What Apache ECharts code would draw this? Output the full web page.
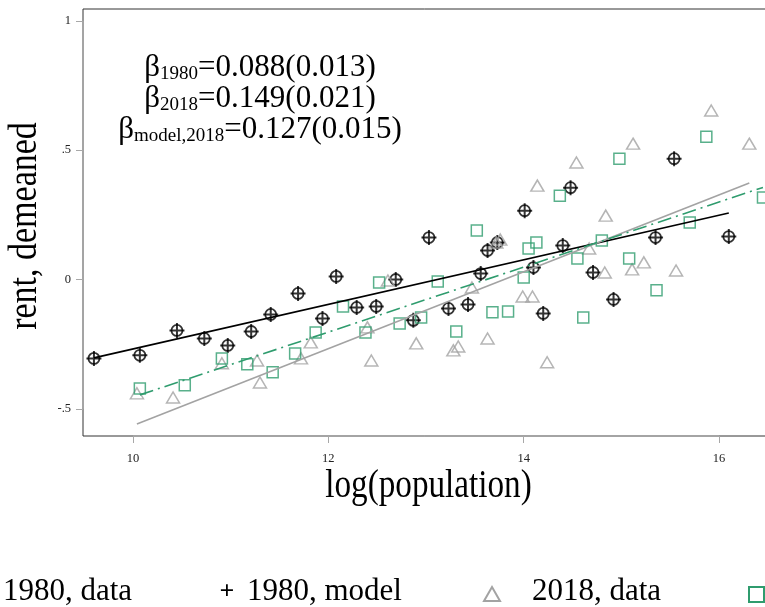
<!DOCTYPE html>
<html>
<head>
<meta charset="utf-8">
<script src="https://cdn.jsdelivr.net/npm/echarts@6/dist/echarts.min.js"></script>
<style>
html,body{margin:0;padding:0;background:#fff;}
#chart{width:765px;height:607px;}
</style>
</head>
<body>
<div id="chart"></div>
<script>
// ---- data ----
const pop1980 = [9.60,10.07,10.45,10.73,10.97,11.21,11.41,11.69,11.94,12.08,12.29,12.49,12.69,12.87,13.03,13.23,13.43,13.56,13.63,13.73,14.01,14.10,14.20,14.40,14.48,14.71,14.92,15.35,15.54,16.10];
const rent1980 = [-0.305,-0.293,-0.197,-0.228,-0.255,-0.201,-0.135,-0.054,-0.151,0.012,-0.108,-0.104,0.000,-0.158,0.162,-0.112,-0.097,0.023,0.112,0.143,0.266,0.046,-0.131,0.131,0.355,0.027,-0.077,0.162,0.467,0.166];
const rentModel1980 = [-0.305,-0.293,-0.197,-0.228,-0.255,-0.201,-0.135,-0.054,-0.151,0.012,-0.108,-0.104,0.000,-0.158,0.162,-0.112,-0.097,0.023,0.112,0.143,0.266,0.046,-0.131,0.131,0.355,0.027,-0.077,0.162,0.467,0.166];

const pop2018 = [10.04,10.41,10.91,11.27,11.30,11.72,11.82,12.40,12.44,12.61,12.90,13.28,13.33,13.47,13.63,13.72,13.76,13.99,14.09,14.14,14.24,14.54,14.67,14.83,14.84,15.11,15.12,15.23,15.56,15.92,16.31];
const rent2018 = [-0.440,-0.456,-0.324,-0.313,-0.398,-0.305,-0.243,-0.185,-0.313,-0.004,-0.247,-0.274,-0.259,-0.031,-0.228,0.143,0.154,-0.066,-0.066,0.363,-0.320,0.452,0.120,0.027,0.247,0.039,0.525,0.066,0.035,0.653,0.525];

const popModel2018 = [10.07,10.53,10.91,11.17,11.43,11.66,11.87,12.15,12.38,12.52,12.73,12.95,13.12,13.31,13.52,13.68,13.84,14.00,14.05,14.13,14.37,14.55,14.61,14.80,14.98,15.08,15.36,15.70,15.87,16.45];
const rentModel2018 = [-0.421,-0.409,-0.305,-0.328,-0.359,-0.286,-0.205,-0.104,-0.205,-0.012,-0.170,-0.147,-0.008,-0.201,0.189,-0.127,-0.124,0.008,0.120,0.143,0.324,0.081,-0.147,0.151,0.467,0.081,-0.042,0.220,0.552,0.317];

// fitted lines (endpoints)
const fit1980X = [9.60, 16.10];
const fit1980Y = [-0.303, 0.257];
const fit2018X = [10.04, 16.31];
const fit2018Y = [-0.559, 0.373];
const fitModel2018X = [10.07, 16.45];
const fitModel2018Y = [-0.446, 0.356];

const xTicks = [10, 12, 14, 16];
const yTicks = [-0.5, 0, 0.5, 1];

const legendNames = ['1980, data', '1980, model', '2018, data', '2018, model'];
const annotLines = [
  {sub: '1980', val: '=0.088(0.013)'},
  {sub: '2018', val: '=0.149(0.021)'},
  {sub: 'model,2018', val: '=0.127(0.015)'}
];

// ---- styling ----
const FONT = 'Liberation Serif';
const BLACK = '#000';
const GRAY = '#a3a3a3';
const GREEN = '#2f9c6e';
const AXGRAY = '#a8a8a8';
const PLUS = 'path://M6.5,0h2v6.5h6.5v2h-6.5v6.5h-2v-6.5h-6.5v-2h6.5z';

const zip = (xs, ys) => xs.map((x, i) => [x, ys[i]]);
const fmtY = v => v === 0 ? '0' : (v < 0 ? '-' : '') + String(Math.abs(v)).replace(/^0/, '');

const chart = echarts.init(document.getElementById('chart'), null, {renderer: 'canvas'});

const XMIN = 9.488, XMAX = 17.0;
const YMIN = -0.605, YMAX = 1.0456;

const option = {
  animation: false,
  backgroundColor: '#fff',
  grid: {left: 83, top: 9, width: 733.7, height: 427, outerBoundsMode: 'none', containLabel: false,
         show: true, borderColor: '#333', borderWidth: 1, backgroundColor: 'transparent'},
  xAxis: {
    type: 'value', min: XMIN, max: XMAX,
    splitLine: {show: false},
    axisLine: {show: false, onZero: false},
    axisTick: {show: true, length: 7, customValues: xTicks, lineStyle: {color: AXGRAY, width: 1}},
    axisLabel: {customValues: xTicks, margin: 16, fontFamily: FONT, fontSize: 12.5, color: '#222'}
  },
  yAxis: {
    type: 'value', min: YMIN, max: YMAX,
    splitLine: {show: false},
    axisLine: {show: false, onZero: false},
    axisTick: {show: true, length: 7, customValues: yTicks, lineStyle: {color: AXGRAY, width: 1}},
    axisLabel: {customValues: yTicks, margin: 12, fontFamily: FONT, fontSize: 12.5, color: '#222', formatter: fmtY}
  },
  series: [
    {name: legendNames[0], type: 'scatter', data: zip(pop1980, rent1980), symbol: 'circle', symbolSize: 11,
     itemStyle: {color: 'transparent', borderColor: BLACK, borderWidth: 1.8}, z: 2},
    {name: legendNames[1], type: 'scatter', data: zip(pop1980, rentModel1980), symbol: PLUS, symbolSize: 15,
     itemStyle: {color: BLACK}, z: 3},
    {name: legendNames[2], type: 'scatter', data: zip(pop2018, rent2018), symbol: 'triangle', symbolSize: [13, 11],
     itemStyle: {color: 'transparent', borderColor: GRAY, borderWidth: 1.5}, z: 4},
    {name: legendNames[3], type: 'scatter', data: zip(popModel2018, rentModel2018), symbol: 'rect', symbolSize: 11,
     itemStyle: {color: 'transparent', borderColor: GREEN, borderWidth: 1.5}, z: 5},
    {name: 'fit 1980', type: 'line', data: zip(fit1980X, fit1980Y), showSymbol: false, symbol: 'none',
     lineStyle: {color: BLACK, width: 1.6}, z: 6},
    {name: 'fit 2018', type: 'line', data: zip(fit2018X, fit2018Y), showSymbol: false, symbol: 'none',
     lineStyle: {color: GRAY, width: 1.6}, z: 6},
    {name: 'fit model 2018', type: 'line', data: zip(fitModel2018X, fitModel2018Y), showSymbol: false, symbol: 'none',
     lineStyle: {color: GREEN, width: 1.6, type: [14, 5, 2, 5]}, z: 6}
  ]
};
chart.setOption(option);

// axis lines spanning the labelled range, plus text elements
const p = (x, y) => chart.convertToPixel({gridIndex: 0}, [x, y]);
const gBottom = 9 + 427, gLeft = 83;
const xa = p(xTicks[0], 0)[0], xb = p(xTicks[xTicks.length - 1], 0)[0];
const ya = p(XMIN, yTicks[0])[1], yb = p(XMIN, yTicks[yTicks.length - 1])[1];

const graphics = [
  {type: 'line', shape: {x1: xa, y1: gBottom, x2: xb, y2: gBottom}, style: {stroke: AXGRAY, lineWidth: 1.6}, z: 10},
  {type: 'line', shape: {x1: gLeft, y1: ya, x2: gLeft, y2: yb}, style: {stroke: AXGRAY, lineWidth: 1.6}, z: 10},
  // axis titles
  {type: 'text', x: 25, y: 226, rotation: Math.PI / 2, scaleX: 0.85,
   style: {text: 'rent, demeaned', font: '40px "' + FONT + '"', fill: '#000', align: 'center', verticalAlign: 'middle'}, z: 10},
  {type: 'text', x: 428.5, y: 486, scaleX: 0.83,
   style: {text: 'log(population)', font: '40px "' + FONT + '"', fill: '#000', align: 'center', verticalAlign: 'middle'}, z: 10}
];
// annotation
const annotY = [68, 99, 130];
annotLines.forEach((ln, i) => {
  graphics.push({type: 'text', x: 260, y: annotY[i], z: 10,
    style: {
      text: '{b|β}{s|' + ln.sub + '}{m|' + ln.val + '}',
      align: 'center', verticalAlign: 'middle',
      rich: {
        b: {fontFamily: FONT, fontSize: 31, lineHeight: 31, verticalAlign: 'bottom', fill: '#000', color: '#000'},
        m: {fontFamily: FONT, fontSize: 31, lineHeight: 31, verticalAlign: 'bottom', fill: '#000', color: '#000'},
        s: {fontFamily: FONT, fontSize: 19, lineHeight: 19, verticalAlign: 'bottom', fill: '#000', color: '#000'}
      }
    }});
});
// legend (bottom row)
const legY = 592;
const legFont = '31px "' + FONT + '"';
graphics.push(
  {type: 'text', x: 3, y: legY, style: {text: legendNames[0], font: legFont, fill: '#000', align: 'left', verticalAlign: 'middle'}, z: 10},
  {type: 'text', x: 227, y: legY, style: {text: '+', font: 'bold 26px "' + FONT + '"', fill: '#000', align: 'center', verticalAlign: 'middle'}, z: 10},
  {type: 'text', x: 247, y: legY, style: {text: legendNames[1], font: legFont, fill: '#000', align: 'left', verticalAlign: 'middle'}, z: 10},
  {type: 'polygon', shape: {points: [[492, 587], [500, 601], [484, 601]]}, style: {fill: 'none', stroke: GRAY, lineWidth: 2}, z: 10},
  {type: 'text', x: 532, y: legY, style: {text: legendNames[2], font: legFont, fill: '#000', align: 'left', verticalAlign: 'middle'}, z: 10},
  {type: 'rect', shape: {x: 749, y: 587, width: 15, height: 15}, style: {fill: 'none', stroke: GREEN, lineWidth: 2}, z: 10}
);
chart.setOption({graphic: graphics});
</script>
</body>
</html>
